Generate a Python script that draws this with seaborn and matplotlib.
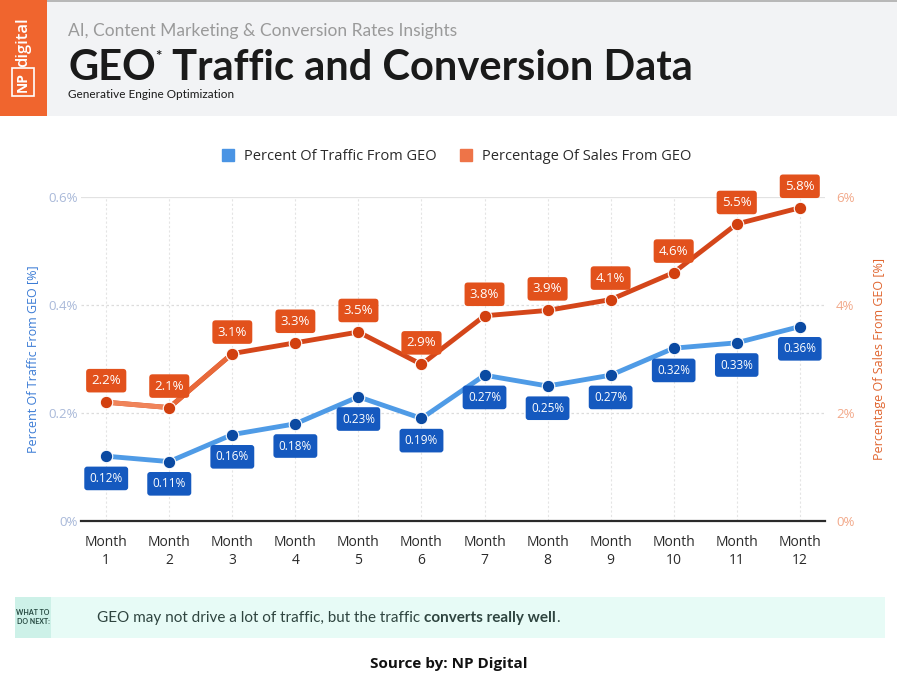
import numpy as np
import pandas as pd
import matplotlib
matplotlib.use("Agg")
import matplotlib.pyplot as plt
import seaborn as sns
from matplotlib.patches import Rectangle
from matplotlib.lines import Line2D

# --- data ---
months = [f"Month\n{i}" for i in range(1, 13)]
traffic_pct = [0.12, 0.11, 0.16, 0.18, 0.23, 0.19, 0.27, 0.25, 0.27, 0.32, 0.33, 0.36]
sales_pct = [2.2, 2.1, 3.1, 3.3, 3.5, 2.9, 3.8, 3.9, 4.1, 4.6, 5.5, 5.8]
left_ticks = [0, 0.2, 0.4, 0.6]
left_ticklabels = ["0%", "0.2%", "0.4%", "0.6%"]
right_ticks = [0, 2, 4, 6]
right_ticklabels = ["0%", "2%", "4%", "6%"]

W, H = 897, 683
BLUE_LINE = "#4f9be6"
BLUE_DOT = "#0b4aa2"
BLUE_BOX = "#1559bf"
OR_LINE = "#d4461a"
OR_MID = "#e8693a"
OR_LIGHT = "#f0845a"
OR_DOT = "#d2400f"
OR_BOX = "#e2511c"
FONT = "Open Sans"

sns.set_theme(style="white")
plt.rcParams["font.family"] = [FONT, "DejaVu Sans"]

df = pd.DataFrame({"idx": np.arange(len(months)), "month": months,
                   "traffic": traffic_pct, "sales": sales_pct})


def fx(x):
    return x / W


def fy(y):
    return 1 - y / H


fig = plt.figure(figsize=(W / 100, H / 100), dpi=100)
fig.patch.set_facecolor("white")

# header band
fig.patches.append(Rectangle((fx(0), fy(116)), 1, 116 / H, transform=fig.transFigure,
                             facecolor="#f2f3f5", edgecolor="none", zorder=0))
fig.patches.append(Rectangle((fx(0), fy(2)), 1, 2 / H, transform=fig.transFigure,
                             facecolor="#b8b8b8", edgecolor="none", zorder=1))
fig.patches.append(Rectangle((fx(0), fy(116)), 47 / W, 116 / H, transform=fig.transFigure,
                             facecolor="#f0652e", edgecolor="none", zorder=1))
fig.text(fx(23), fy(42), "digital", rotation=90, color="white", fontsize=12,
         ha="center", va="center", fontweight="semibold")
fig.text(fx(23), fy(82), "NP", rotation=90, color="white", fontsize=10,
         ha="center", va="center", fontweight="bold",
         bbox=dict(boxstyle="square,pad=0.3", fc="none", ec="white", lw=1.2))

fig.text(fx(68), fy(31), "AI, Content Marketing & Conversion Rates Insights",
         color="#9a9a9a", fontsize=12.5, ha="left", va="center", family="Lato")
renderer = fig.canvas.get_renderer()
t1 = fig.text(fx(68), fy(68), "GEO", color="#1a1a1a", fontsize=30, fontweight="bold",
              ha="left", va="center", family="Lato")
x1 = t1.get_window_extent(renderer).x1
t2 = fig.text(x1 / W, fy(57), "*", color="#1a1a1a", fontsize=11, fontweight="bold",
              ha="left", va="center", family="Lato")
x2 = t2.get_window_extent(renderer).x1
fig.text(x2 / W, fy(68), " Traffic and Conversion Data", color="#1a1a1a", fontsize=30,
         fontweight="bold", ha="left", va="center", family="Lato")
fig.text(fx(68), fy(94), "Generative Engine Optimization", color="#1a1a1a", fontsize=8.5,
         ha="left", va="center", family="Lato")

# chart axes
ax = fig.add_axes([fx(81), fy(521), (825 - 81) / W, (521 - 197) / H])
ax.set_facecolor("none")
ax2 = ax.twinx()

sns.lineplot(data=df, x="idx", y="traffic", ax=ax, color=BLUE_LINE, linewidth=3.5,
             marker="o", markersize=9, markerfacecolor=BLUE_DOT, markeredgecolor="white",
             markeredgewidth=0.8, zorder=4)
sns.lineplot(data=df, x="idx", y="sales", ax=ax2, color=OR_LINE, linewidth=3.5,
             marker="o", markersize=9, markerfacecolor=OR_DOT, markeredgecolor="white",
             markeredgewidth=0.8, zorder=4)
# lighter start of the sales line
ax2.plot(df["idx"][1:3], df["sales"][1:3], color=OR_MID, linewidth=3.5, zorder=4.4,
         solid_capstyle="butt")
ax2.plot(df["idx"][:2], df["sales"][:2], color=OR_LIGHT, linewidth=3.5, zorder=4.5,
         solid_capstyle="butt")
ax2.plot(df["idx"][:3], df["sales"][:3], "o", color=OR_DOT, markersize=9,
         markeredgecolor="white", markeredgewidth=0.8, zorder=5)

ax.set_xlim(-0.4, 11.4)
ax.set_ylim(0, 0.6)
ax2.set_ylim(0, 6)
ax.set_xticks(df["idx"])
ax.set_xticklabels(months, fontsize=10, color="#2b2b2b", linespacing=1.25)
ax.set_yticks(left_ticks)
ax.set_yticklabels(left_ticklabels, fontsize=9.5, color="#a9b9d9")
ax2.set_yticks(right_ticks)
ax2.set_yticklabels(right_ticklabels, fontsize=9.5, color="#f2a98a")
ax.tick_params(axis="x", length=0, pad=10)
ax.tick_params(axis="y", length=0, pad=2)
ax2.tick_params(axis="y", length=0, pad=8)
ax.set_xlabel("")
ax.set_ylabel("Percent Of Traffic From GEO [%]", color="#3a7bd5", fontsize=9, labelpad=7)
ax2.set_ylabel("Percentage Of Sales From GEO [%]", color="#e0652f", fontsize=9, labelpad=13)

for a in (ax, ax2):
    for s in a.spines.values():
        s.set_visible(False)
ax.spines["bottom"].set_visible(True)
ax.spines["bottom"].set_color("#2a2a2a")
ax.spines["bottom"].set_linewidth(1.6)
ax.spines["bottom"].set_zorder(6)

for v in left_ticks[1:-1]:
    ax.axhline(v, color="#dcdcdc", lw=0.9, ls=(0, (2, 2)), zorder=1)
ax.axhline(left_ticks[-1], color="#e2e2e2", lw=1.6, zorder=1)
for i in df["idx"]:
    ax.axvline(i, color="#e4e4e4", lw=0.8, ls=(0, (2, 2)), zorder=1)

# value labels
for i, v in zip(df["idx"], traffic_pct):
    ax.annotate(f"{v:.2f}%", (i, v), xytext=(0, -16), textcoords="offset points",
                ha="center", va="center", color="white", fontsize=8.5, zorder=7,
                bbox=dict(boxstyle="round,pad=0.45,rounding_size=0.25", fc=BLUE_BOX, ec="none"))
for i, v in zip(df["idx"], sales_pct):
    ax2.annotate(f"{v:.1f}%", (i, v), xytext=(0, 15.5), textcoords="offset points",
                 ha="center", va="center", color="white", fontsize=9.5, zorder=7,
                 bbox=dict(boxstyle="round,pad=0.4,rounding_size=0.25", fc=OR_BOX, ec="none"),
                 annotation_clip=False)

# legend
handles = [Line2D([], [], marker="s", ls="none", color="#4a94e4", markersize=9),
           Line2D([], [], marker="s", ls="none", color="#ee7448", markersize=9)]
fig.legend(handles, ["Percent Of Traffic From GEO", "Percentage Of Sales From GEO"],
           loc="center", bbox_to_anchor=(fx(452), fy(157)), ncol=2, frameon=False,
           fontsize=10.5, handletextpad=0.1, columnspacing=1.0, labelcolor="#2b2b2b")

# bottom note
fig.patches.append(Rectangle((fx(15), fy(638)), 870 / W, 41 / H, transform=fig.transFigure,
                             facecolor="#e7fbf6", edgecolor="none"))
fig.patches.append(Rectangle((fx(15), fy(638)), 36 / W, 41 / H, transform=fig.transFigure,
                             facecolor="#cdf1e8", edgecolor="none"))
fig.text(fx(33), fy(617), "WHAT TO\nDO NEXT:", color="#24483f", fontsize=5,
         fontweight="bold", ha="center", va="center", linespacing=1.2, family="Lato")
n1 = fig.text(fx(97), fy(618), "GEO may not drive a lot of traffic, but the traffic ",
              color="#2f4540", fontsize=11, ha="left", va="center", family="Lato")
nx = n1.get_window_extent(renderer).x1
n2 = fig.text(nx / W, fy(618), "converts really well", color="#2f4540", fontsize=11,
              fontweight="bold", ha="left", va="center", family="Lato")
nx2 = n2.get_window_extent(renderer).x1
fig.text(nx2 / W, fy(618), ".", color="#2f4540", fontsize=11, ha="left", va="center",
         family="Lato")

fig.text(0.5, fy(664), "Source by: NP Digital", color="#111111", fontsize=11,
         fontweight="bold", ha="center", va="center")

fig.savefig("out.png", dpi=100)
